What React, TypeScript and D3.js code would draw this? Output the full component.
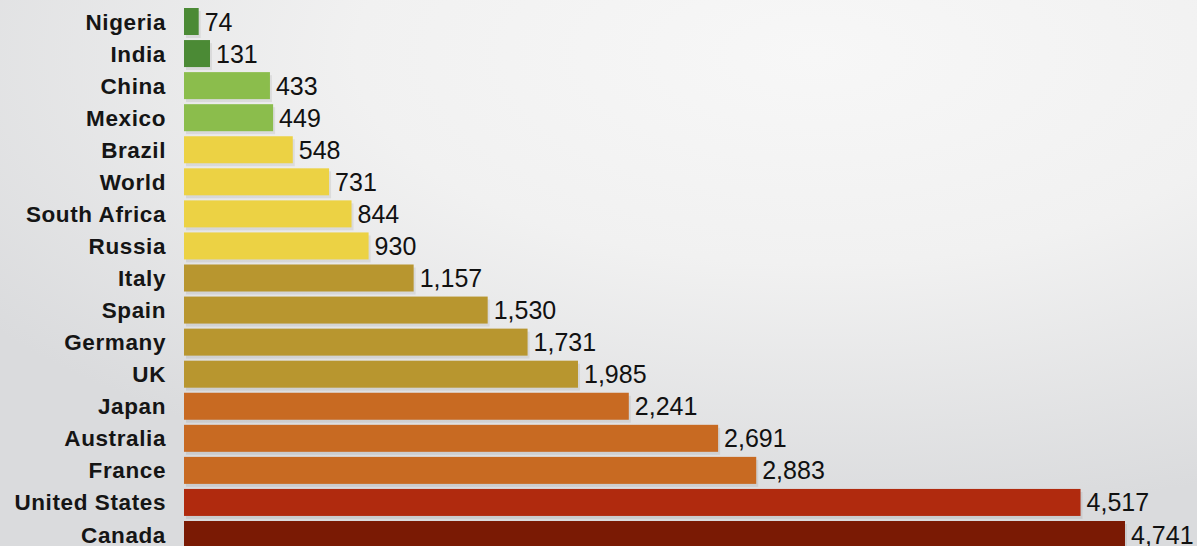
import React from "react";
import * as d3 from "d3";

const countries = ["Nigeria","India","China","Mexico","Brazil","World","South Africa","Russia","Italy","Spain","Germany","UK","Japan","Australia","France","United States","Canada"];
const values = [74,131,433,449,548,731,844,930,1157,1530,1731,1985,2241,2691,2883,4517,4741];
const colors = ["#4b8a35","#4b8a35","#8bbd4c","#8bbd4c","#ecd244","#ecd244","#ecd244","#ecd244","#b8962f","#b8962f","#b8962f","#b8962f","#c86a22","#c86a22","#c86a22","#b02a0e","#7a1a04"];

const W = 1197, H = 546;

export default function App() {
  const x = d3.scaleLinear().domain([0, 4741]).range([184, 1125]);
  const y = d3.scalePoint<string>().domain(countries).range([21.5, 534.5]);
  const bh = 27;
  const fmt = d3.format(",");
  return (
    <svg width={W} height={H} style={{ position: "absolute", left: 0, top: 0 }}>
      <defs>
        <radialGradient id="bg" cx="68%" cy="10%" r="85%">
          <stop offset="0%" stopColor="#f7f7f7" />
          <stop offset="45%" stopColor="#f1f1f1" />
          <stop offset="100%" stopColor="#dadbdd" />
        </radialGradient>
      </defs>
      <rect x={0} y={0} width={W} height={H} fill="url(#bg)" />
      {countries.map((c, i) => {
        const cy = y(c) as number;
        const x0 = x(0);
        const w = x(values[i]) - x0;
        return (
          <g key={c}>
            <rect x={x0 + 2} y={cy - bh / 2 + 3} width={w} height={bh} fill="#000" opacity={0.07} />
            <rect x={x0} y={cy - bh / 2} width={w} height={bh} fill={colors[i]} />
            <text x={166} y={cy + 8} textAnchor="end" fontFamily="Liberation Sans, Arial, sans-serif" fontWeight="bold" fontSize={22.5} letterSpacing={0.6} fill="#151515">{c}</text>
            <text x={x0 + w + 6} y={cy + 9} textAnchor="start" fontFamily="Liberation Sans, Arial, sans-serif" fontSize={25} fill="#111">{fmt(values[i])}</text>
          </g>
        );
      })}
    </svg>
  );
}
